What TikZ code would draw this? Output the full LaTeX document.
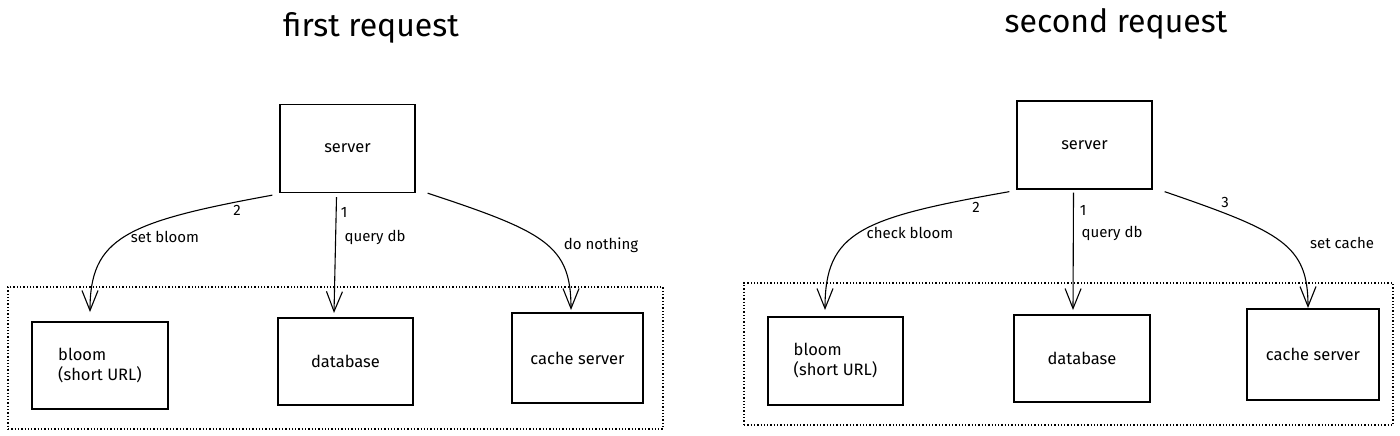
\documentclass[tikz,border=0pt]{standalone}
\usepackage{fontspec}
\setmainfont{Fira Sans}
\usetikzlibrary{arrows.meta}
\begin{document}
\begin{tikzpicture}[x=1pt,y=-1pt,
  box/.style={draw, line width=1.3pt, inner sep=0pt, font=\fontsize{16.5}{20}\selectfont},
  lbl/.style={inner sep=0pt, font=\fontsize{15}{18}\selectfont},
  ttl/.style={inner sep=0pt, font=\fontsize{32}{36}\selectfont},
  conn/.style={line width=1.1pt, -{Straight Barb[length=20pt,width=16pt,line width=1.1pt]}},
  group/.style={draw, dotted, line width=1.3pt}]
\useasboundingbox (0,0) rectangle (1400,436);
% ---------- left panel ----------
\node[ttl] (t1) at (371,28) {first request};
\node[box, minimum width=135pt, minimum height=88pt] (s1) at (347.5,148.5) {server};
\node[box, minimum width=136pt, minimum height=87pt, align=left] (b1) at (100,365.5) {bloom\\(short URL)};
\node[box, minimum width=135pt, minimum height=87pt] (d1) at (345.5,361.5) {database};
\node[box, minimum width=131pt, minimum height=90pt] (c1) at (577.5,358) {cache server};
\node[group, minimum width=655pt, minimum height=142pt] (g1) at (335.5,358) {};
\coordinate (s1a) at ([xshift=-7pt,yshift=-2pt]s1.south west);
\coordinate (s1b) at ([xshift=-11pt,yshift=-4pt]s1.south);
\coordinate (s1c) at ([xshift=12pt,yshift=0pt]s1.south east);
\coordinate (e1a) at (90,312);
\coordinate (e1b) at (334,313);
\coordinate (e1c) at (571,310);
\draw[conn] (s1a) .. controls (125,222) and (90,238) .. (e1a);
\draw[conn] (s1b) -- (e1b);
\draw[conn] (s1c) .. controls (545,232) and (571,245) .. (e1c);
\node[lbl] (n1a) at (237,210) {2};
\node[lbl] (n1b) at (344,212) {1};
\node[lbl] (l1a) at (165,237) {set bloom};
\node[lbl] (l1b) at (375,237) {query db};
\node[lbl] (l1c) at (601,245) {do nothing};
% ---------- right panel ----------
\node[ttl] (t2) at (1116,24) {second request};
\node[box, minimum width=135pt, minimum height=88pt] (s2) at (1084.5,145) {server};
\node[box, minimum width=135pt, minimum height=88pt, align=left] (b2) at (835.5,361) {bloom\\(short URL)};
\node[box, minimum width=136pt, minimum height=87pt] (d2) at (1082,358.5) {database};
\node[box, minimum width=132pt, minimum height=91pt] (c2) at (1313,354.5) {cache server};
\node[group, minimum width=649pt, minimum height=142pt] (g2) at (1068.5,354) {};
\coordinate (s2a) at ([xshift=-7pt,yshift=-2pt]s2.south west);
\coordinate (s2b) at ([xshift=-11pt,yshift=-3pt]s2.south);
\coordinate (s2c) at ([xshift=12pt,yshift=-2pt]s2.south east);
\coordinate (e2a) at (825,310);
\coordinate (e2b) at (1073,310);
\coordinate (e2c) at (1308,308);
\draw[conn] (s2a) .. controls (860,218) and (825,232) .. (e2a);
\draw[conn] (s2b) -- (e2b);
\draw[conn] (s2c) .. controls (1282,232) and (1308,245) .. (e2c);
\node[lbl] (n2a) at (976,207) {2};
\node[lbl] (n2b) at (1083,210) {1};
\node[lbl] (n2c) at (1225,202) {3};
\node[lbl] (l2a) at (910,233) {check bloom};
\node[lbl] (l2b) at (1112,233) {query db};
\node[lbl] (l2c) at (1342,243) {set cache};
\end{tikzpicture}
\end{document}
